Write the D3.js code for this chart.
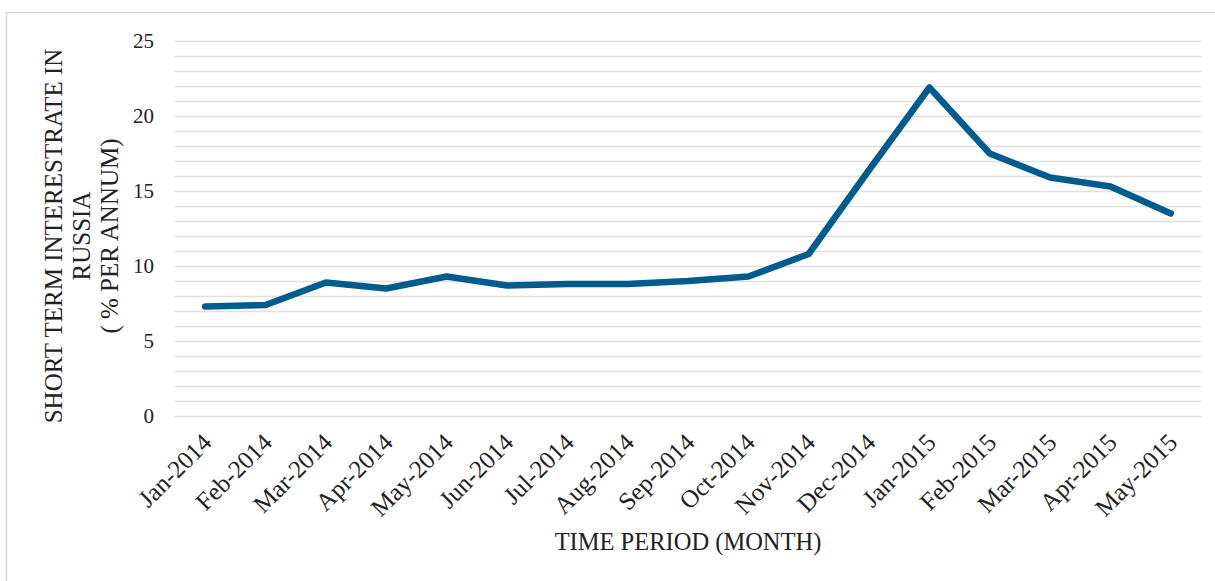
<!DOCTYPE html>
<html>
<head>
<meta charset="utf-8">
<script src="https://cdn.jsdelivr.net/npm/d3@7"></script>
<style>
  html, body { margin: 0; padding: 0; background: #fff; }
  svg { display: block; font-family: "Liberation Serif", "Times New Roman", serif; }
</style>
</head>
<body>
<svg id="chart" width="1215" height="581"></svg>
<script>
const months = ["Jan-2014","Feb-2014","Mar-2014","Apr-2014","May-2014","Jun-2014","Jul-2014","Aug-2014","Sep-2014","Oct-2014","Nov-2014","Dec-2014","Jan-2015","Feb-2015","Mar-2015","Apr-2015","May-2015"];
const rates = [7.3, 7.4, 8.9, 8.5, 9.3, 8.7, 8.8, 8.8, 9.0, 9.3, 10.8, 16.4, 21.9, 17.5, 15.9, 15.3, 13.5];
const yTicks = [0, 5, 10, 15, 20, 25];
const yGrid = d3.range(0, 26, 1);
const yTitleLines = ["SHORT TERM INTERESTRATE IN", "RUSSIA", "( % PER ANNUM)"];
const xTitle = "TIME PERIOD (MONTH)";

const svg = d3.select("#chart");

// outer frame (only top and left visible in crop)
svg.append("path")
  .attr("d", "M6.5,600 L6.5,12.5 L1230,12.5")
  .attr("fill", "none").attr("stroke", "#d9d9d9").attr("stroke-width", 1.5);

const x = d3.scaleBand().domain(months).range([175, 1201]).padding(0);
const y = d3.scaleLinear().domain([0, 25]).range([416, 41]);

// gridlines
svg.append("g").selectAll("line").data(yGrid).join("line")
  .attr("x1", 175).attr("x2", 1201)
  .attr("y1", d => Math.round(y(d)) + 0.5).attr("y2", d => Math.round(y(d)) + 0.5)
  .attr("stroke", "#e0e0e0").attr("stroke-width", 1.3);

// y tick labels
svg.append("g").selectAll("text").data(yTicks).join("text")
  .attr("x", 154).attr("y", d => y(d))
  .attr("dy", "0.35em")
  .attr("text-anchor", "end")
  .attr("font-size", 21).attr("fill", "#222")
  .text(d => d);

// x tick labels
svg.append("g").selectAll("text").data(months).join("text")
  .attr("transform", d => `translate(${x(d) + x.bandwidth() / 2 + 8},${444}) rotate(-45)`)
  .attr("text-anchor", "end")
  .attr("font-size", 25).attr("fill", "#222")
  .text(d => d);

// line
const line = d3.line()
  .x((d, i) => x(months[i]) + x.bandwidth() / 2)
  .y(d => y(d));
svg.append("path").datum(rates)
  .attr("d", line)
  .attr("fill", "none")
  .attr("stroke", "#005b8f")
  .attr("stroke-width", 6.5)
  .attr("stroke-linejoin", "round")
  .attr("stroke-linecap", "round");

// y axis title
const yt = svg.append("text")
  .attr("transform", "translate(0,236) rotate(-90)")
  .attr("text-anchor", "middle")
  .attr("font-size", 25).attr("fill", "#222");
yTitleLines.forEach((t, i) => {
  yt.append("tspan").attr("x", 0).attr("y", 62 + i * 28).text(t);
});

// x axis title
svg.append("text")
  .attr("x", 688).attr("y", 550)
  .attr("text-anchor", "middle")
  .attr("font-size", 24.5).attr("fill", "#222")
  .text(xTitle);
</script>
</body>
</html>
